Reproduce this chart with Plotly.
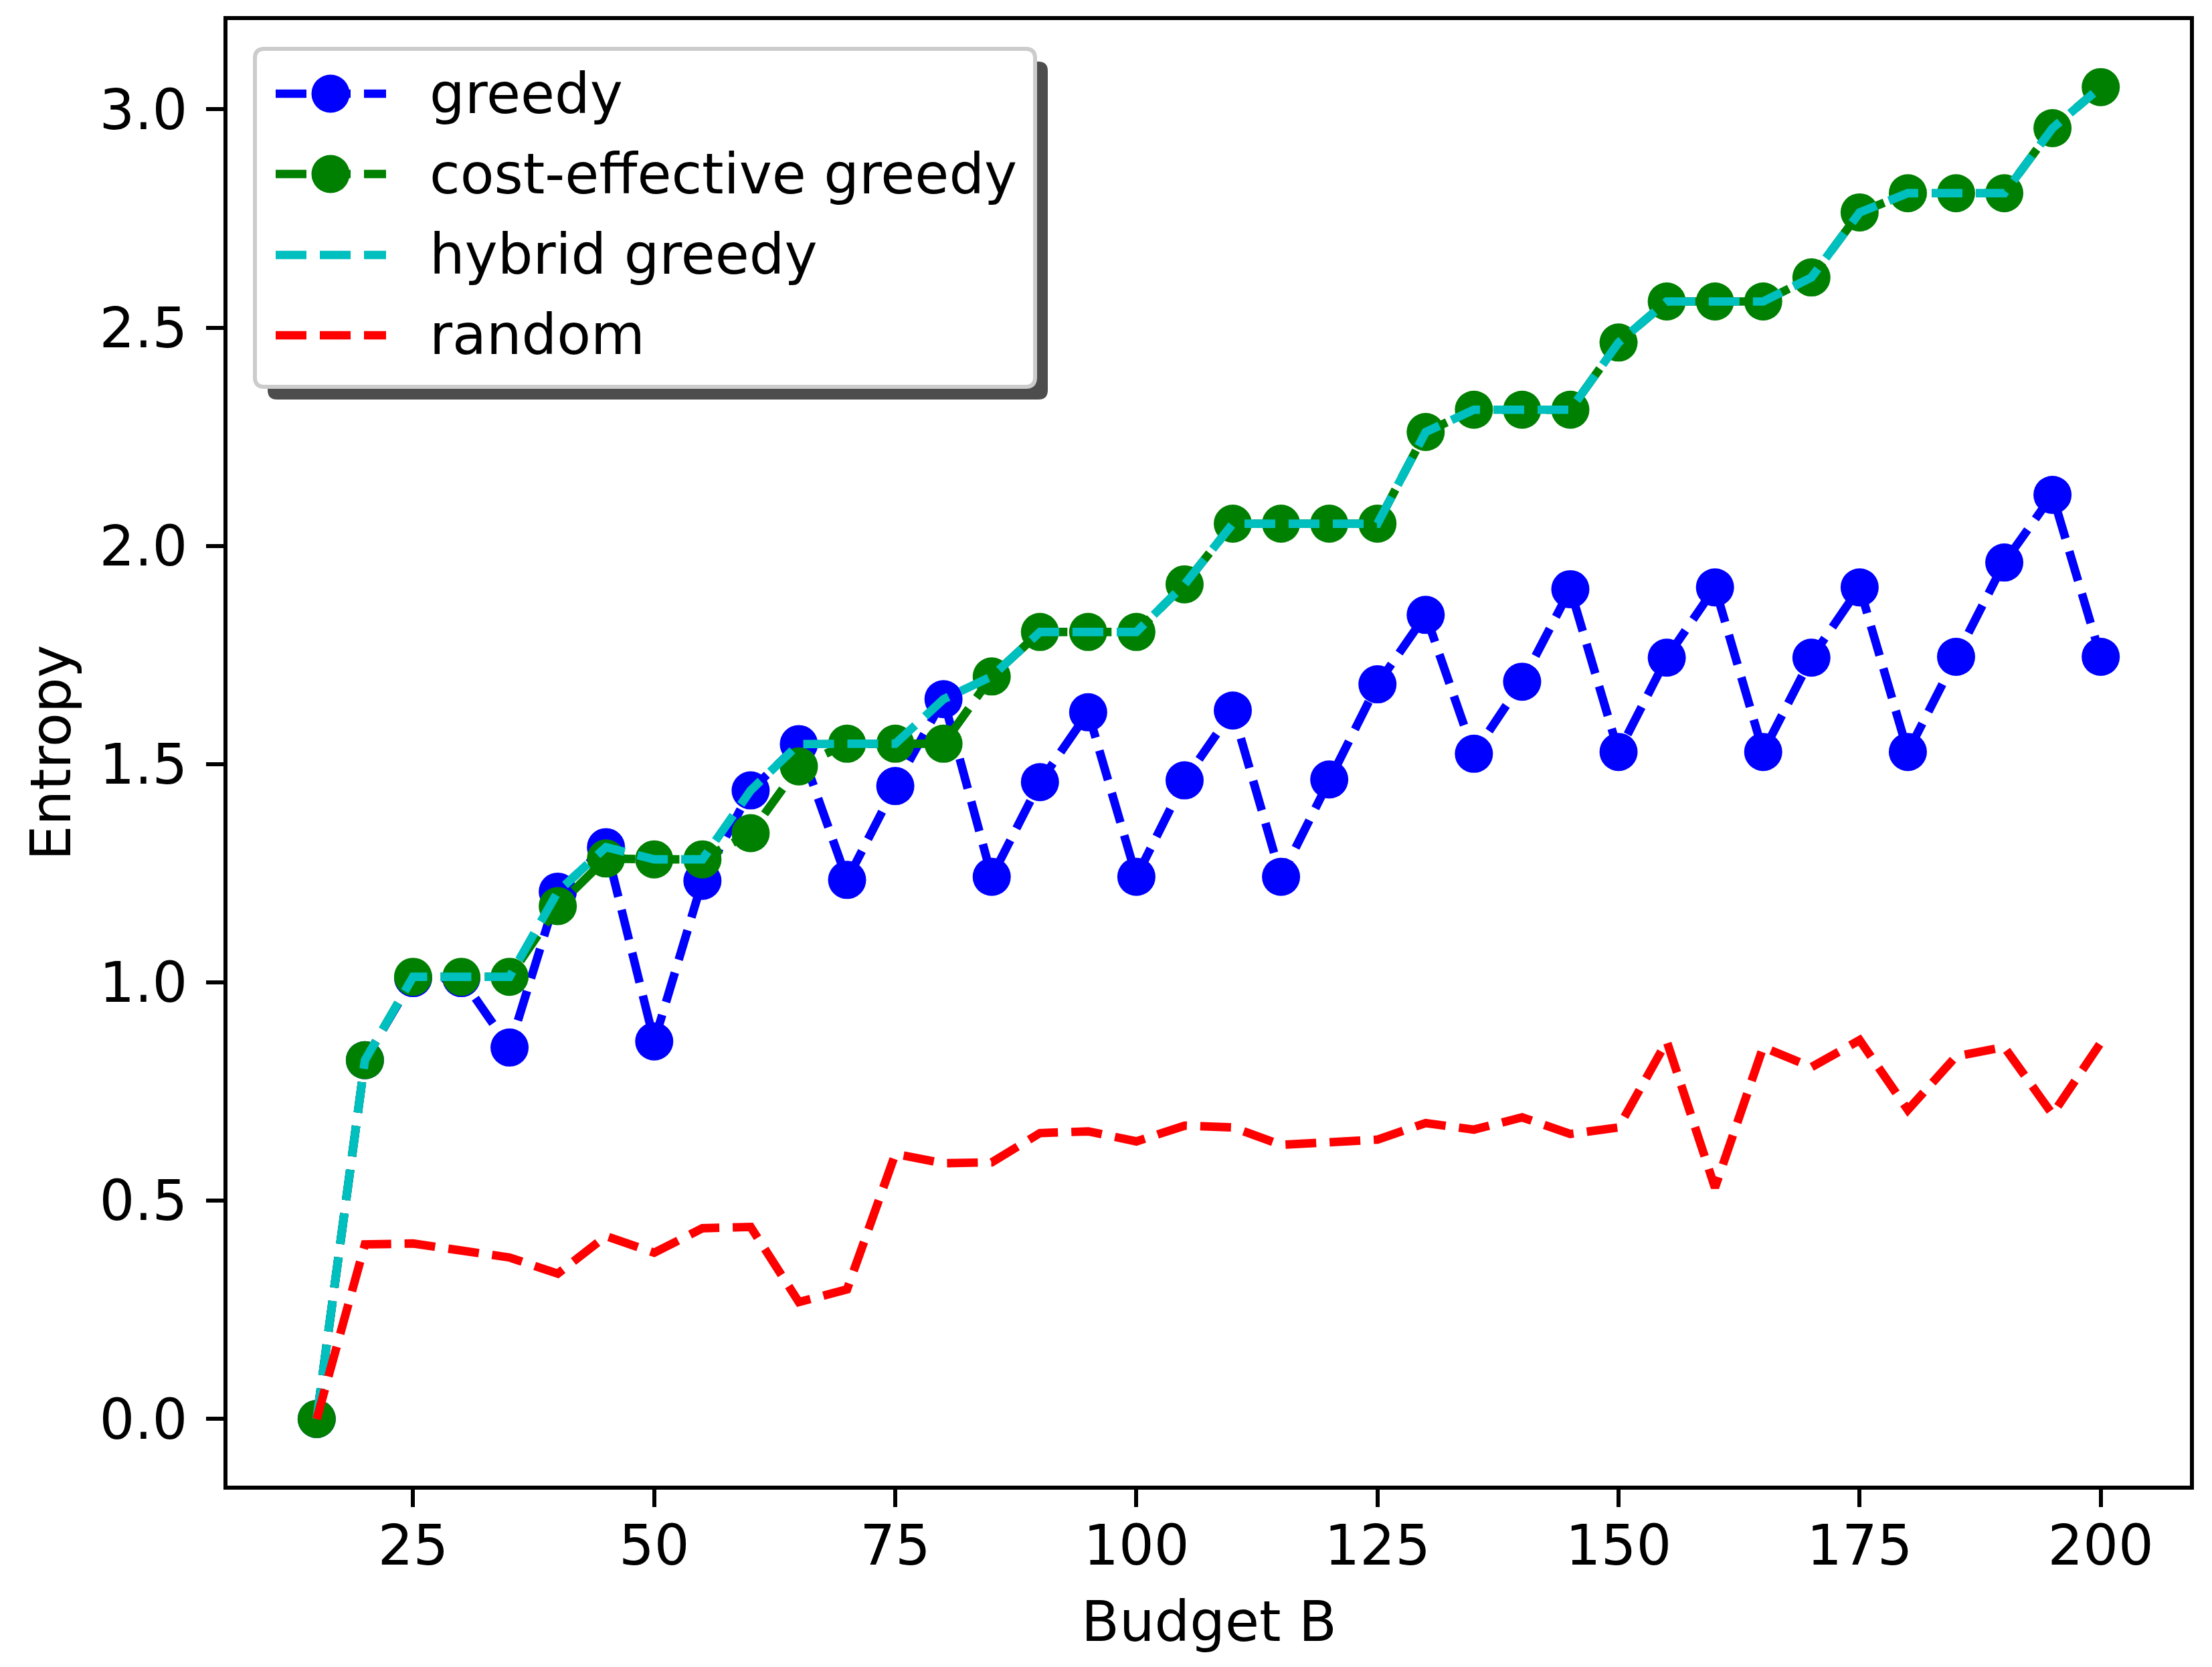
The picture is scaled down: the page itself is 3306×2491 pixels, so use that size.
import plotly.graph_objects as go

# budgets on the x axis
budget = list(range(15, 205, 5))

greedy = [0.0, 0.822, 1.01, 1.01, 0.851, 1.208, 1.31, 0.865, 1.233, 1.44,
          1.546, 1.235, 1.45, 1.649, 1.242, 1.459, 1.619, 1.242, 1.463, 1.623,
          1.242, 1.465, 1.683, 1.842, 1.524, 1.689, 1.901, 1.528, 1.744, 1.905,
          1.528, 1.744, 1.905, 1.528, 1.746, 1.962, 2.117, 1.746]

cost_effective = [0.0, 0.822, 1.013, 1.013, 1.013, 1.175, 1.284, 1.282, 1.282, 1.342,
                  1.495, 1.547, 1.547, 1.547, 1.701, 1.803, 1.803, 1.803, 1.912, 2.051,
                  2.051, 2.051, 2.051, 2.261, 2.312, 2.312, 2.312, 2.466, 2.56, 2.56,
                  2.56, 2.615, 2.764, 2.808, 2.808, 2.808, 2.957, 3.051]

hybrid = [0.0, 0.822, 1.013, 1.013, 1.013, 1.208, 1.31, 1.282, 1.282, 1.44,
          1.546, 1.547, 1.547, 1.649, 1.701, 1.803, 1.803, 1.803, 1.912, 2.051,
          2.051, 2.051, 2.051, 2.261, 2.312, 2.312, 2.312, 2.466, 2.56, 2.56,
          2.56, 2.615, 2.764, 2.808, 2.808, 2.808, 2.957, 3.051]

random_sel = [0.0, 0.40, 0.402, 0.384, 0.37, 0.333, 0.419, 0.381, 0.437, 0.44,
              0.268, 0.297, 0.607, 0.586, 0.588, 0.655, 0.659, 0.636, 0.672, 0.668,
              0.628, 0.634, 0.64, 0.678, 0.663, 0.691, 0.653, 0.668, 0.865, 0.53,
              0.852, 0.806, 0.868, 0.708, 0.831, 0.852, 0.698, 0.862]

x_ticks = [25, 50, 75, 100, 125, 150, 175, 200]
y_ticks = [0.0, 0.5, 1.0, 1.5, 2.0, 2.5, 3.0]

series_names = ['greedy', 'cost-effective greedy', 'hybrid greedy', 'random']
series_colors = ['#0000ff', '#008000', '#00bfbf', '#ff0000']
series_markers = [True, True, False, False]

W, H = 3306, 2491
ML, MR, MT, MB = 340, 33, 30, 271
FONT = 'DejaVu Sans'
FS = 83
LW = 12.7
DASH = '46px,20px'
MS = 57


def px(x):
    # figure pixel -> paper x
    return (x - ML) / (W - ML - MR)


def py(y):
    # figure pixel -> paper y
    return (H - MB - y) / (H - MT - MB)


def rounded_rect(x0, y0, x1, y1, r):
    # x0,y0 top-left / x1,y1 bottom-right in figure pixels
    rx = r / (W - ML - MR)
    ry = r / (H - MT - MB)
    a, b, c, d = px(x0), py(y1), px(x1), py(y0)
    return (f'M{a+rx},{b} L{c-rx},{b} Q{c},{b} {c},{b+ry} '
            f'L{c},{d-ry} Q{c},{d} {c-rx},{d} L{a+rx},{d} '
            f'Q{a},{d} {a},{d-ry} L{a},{b+ry} Q{a},{b} {a+rx},{b} Z')


fig = go.Figure()

all_series = [greedy, cost_effective, hybrid, random_sel]
for vals, name, col, mk in zip(all_series, series_names, series_colors, series_markers):
    fig.add_trace(go.Scatter(x=budget, y=vals, name=name,
                             mode='lines+markers' if mk else 'lines',
                             line=dict(color=col, width=LW, dash=DASH),
                             marker=dict(color=col, size=MS, line_width=0),
                             showlegend=False))

# hand drawn legend box (matplotlib style with shadow)
shapes = [
    dict(type='path', path=rounded_rect(400, 92, 1566, 597, 14), xref='paper', yref='paper',
         fillcolor='#4d4d4d', line_width=0, layer='above'),
    dict(type='path', path=rounded_rect(381, 73, 1547, 578, 14), xref='paper', yref='paper',
         fillcolor='white', line=dict(color='#cccccc', width=6), layer='above'),
]
annotations = []
row_y = [140, 260, 381, 501]
for yy, name, col, mk in zip(row_y, series_names, series_colors, series_markers):
    shapes.append(dict(type='line', xref='paper', yref='paper',
                       x0=px(412), x1=px(577), y0=py(yy), y1=py(yy),
                       line=dict(color=col, width=LW, dash=DASH), layer='above'))
    if mk:
        shapes.append(dict(type='circle', xref='paper', yref='paper',
                           xsizemode='pixel', ysizemode='pixel',
                           xanchor=px(494), yanchor=py(yy),
                           x0=-MS / 2, x1=MS / 2, y0=-MS / 2, y1=MS / 2,
                           fillcolor=col, line_width=0, layer='above'))
    annotations.append(dict(text=name, x=px(640), y=py(yy), xref='paper', yref='paper',
                            xanchor='left', yanchor='middle', showarrow=False,
                            font=dict(family=FONT, size=FS, color='black')))

# axis titles
annotations.append(dict(text='Budget B', x=0.5, y=py(2423), xref='paper', yref='paper',
                        xanchor='center', yanchor='middle', showarrow=False,
                        font=dict(family=FONT, size=FS, color='black')))
annotations.append(dict(text='Entropy', x=px(76), y=0.5, xref='paper', yref='paper',
                        xanchor='center', yanchor='middle', showarrow=False, textangle=-90,
                        font=dict(family=FONT, size=FS, color='black')))

axis_style = dict(showline=True, linecolor='black', linewidth=6, mirror=True,
                  ticks='outside', ticklen=26, tickwidth=6, tickcolor='black',
                  showgrid=False, zeroline=False,
                  tickfont=dict(family=FONT, size=FS, color='black'))

fig.update_layout(
    width=W, height=H,
    margin=dict(l=ML, r=MR, t=MT, b=MB, autoexpand=False),
    paper_bgcolor='white', plot_bgcolor='white',
    xaxis=dict(range=[5.75, 209.25], tickmode='array', tickvals=x_ticks,
               ticklabelstandoff=-14, **axis_style),
    yaxis=dict(range=[-0.1526, 3.2046], tickmode='array', tickvals=y_ticks,
               tickformat='.1f', ticklabelstandoff=11, **axis_style),
    shapes=shapes,
    annotations=annotations,
)

fig.write_html('out.html', config={'displayModeBar': False},
               post_script="document.body.style.margin='0';")
